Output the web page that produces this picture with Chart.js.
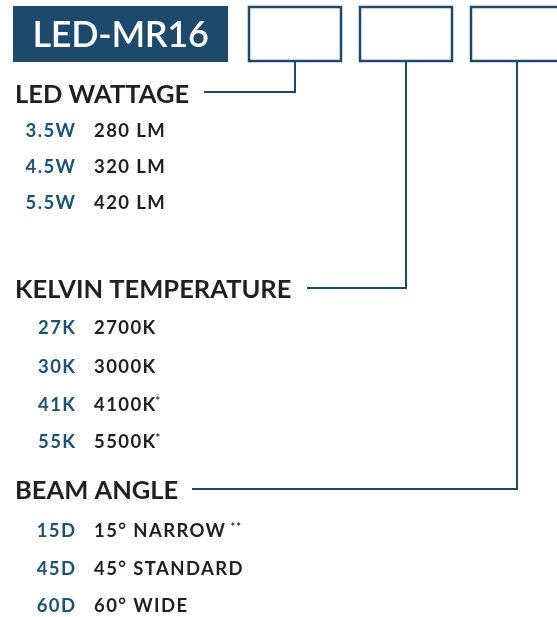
<!DOCTYPE html>
<html>
<head>
<meta charset="utf-8">
<script src="https://cdn.jsdelivr.net/npm/chart.js@4.4.1/dist/chart.umd.min.js"></script>
<style>
  html, body { margin: 0; padding: 0; background: #ffffff; }
  #wrap { width: 557px; height: 617px; position: relative; }
</style>
</head>
<body>
<div id="wrap"><canvas id="c"></canvas></div>
<script>
// ---------- data ----------
const productCode = 'LED-MR16';
const sectionTitles = ['LED WATTAGE', 'KELVIN TEMPERATURE', 'BEAM ANGLE'];
const wattageCodes = ['3.5W', '4.5W', '5.5W'];
const wattageLabels = ['280 LM', '320 LM', '420 LM'];
const kelvinCodes = ['27K', '30K', '41K', '55K'];
const kelvinLabels = ['2700K', '3000K', '4100K*', '5500K*'];
const beamCodes = ['15D', '45D', '60D'];
const beamLabels = ['15° NARROW **', '45° STANDARD', '60° WIDE'];

// ---------- layout (pixel coordinates of the drawing space) ----------
const W = 557, H = 617;
const BLUE = '#1d4a6c';
const CODE_BLUE = '#1b5275';
const INK = '#231f20';
const titleBox = { x0: 13, x1: 228, y0: 6, y1: 62 };
const slotBoxes = [
  { x0: 249, x1: 341, y0: 7, y1: 61 },
  { x0: 360, x1: 452, y0: 7, y1: 61 },
  { x0: 471, x1: 563, y0: 7, y1: 61 }
];
const sectionLayout = [
  { headY: 103, lineY: 92, lineX0: 204, rows: [137, 173, 209] },
  { headY: 298, lineY: 288, lineX0: 307, rows: [334, 373, 411, 448] },
  { headY: 499, lineY: 489, lineX0: 192, rows: [537, 575, 612] }
];
const codeRightX = 75;
const labelLeftX = 94;
const headX = 15;

const groups = [
  { codes: wattageCodes, labels: wattageLabels },
  { codes: kelvinCodes, labels: kelvinLabels },
  { codes: beamCodes, labels: beamLabels }
];

// ---------- datasets (all drawn through chart scales) ----------
const datasets = [];
datasets.push({
  data: [{ x: titleBox.x0, y: titleBox.y0 }, { x: titleBox.x1, y: titleBox.y0 }],
  showLine: true, borderColor: BLUE, borderWidth: 0, pointRadius: 0,
  backgroundColor: BLUE, fill: { value: titleBox.y1 }
});
slotBoxes.forEach((b, i) => {
  datasets.push({
    data: [{ x: b.x0, y: b.y0 }, { x: b.x1, y: b.y0 }, { x: b.x1, y: b.y1 }, { x: b.x0, y: b.y1 }, { x: b.x0, y: b.y0 }],
    showLine: true, borderColor: BLUE, borderWidth: 2.5, pointRadius: 0, fill: false,
    borderJoinStyle: 'miter', borderCapStyle: 'square'
  });
  const cx = (b.x0 + b.x1) / 2;
  const s = sectionLayout[i];
  datasets.push({
    data: [{ x: cx, y: b.y1 }, { x: cx, y: s.lineY }, { x: s.lineX0, y: s.lineY }],
    showLine: true, borderColor: BLUE, borderWidth: 2, pointRadius: 0, fill: false,
    borderJoinStyle: 'miter'
  });
});

// ---------- text plugin ----------
const textPlugin = {
  id: 'texts',
  afterDatasetsDraw(chart) {
    const ctx = chart.ctx;
    const xs = chart.scales.x, ys = chart.scales.y;
    const X = v => xs.getPixelForValue(v), Y = v => ys.getPixelForValue(v);
    ctx.save();
    ctx.textBaseline = 'alphabetic';
    ctx.fillStyle = '#ffffff';
    ctx.font = '600 36px Lato';
    ctx.letterSpacing = '-0.3px';
    ctx.textAlign = 'center';
    ctx.fillText(productCode, X((titleBox.x0 + titleBox.x1) / 2), Y(47));
    groups.forEach((g, gi) => {
      const s = sectionLayout[gi];
      ctx.fillStyle = INK;
      ctx.font = '700 25.5px Lato';
      ctx.letterSpacing = '0px';
      ctx.textAlign = 'left';
      ctx.fillText(sectionTitles[gi], X(headX), Y(s.headY));
      g.codes.forEach((code, ri) => {
        const y = Y(s.rows[ri]);
        ctx.font = '700 18.5px Lato';
        ctx.letterSpacing = '1.4px';
        ctx.fillStyle = CODE_BLUE;
        ctx.textAlign = 'right';
        ctx.fillText(code, X(codeRightX) + 1.4, y);
        ctx.fillStyle = INK;
        ctx.textAlign = 'left';
        const lab = g.labels[ri];
        const m = lab.match(/^(.*?)(\s?\*+)$/);
        const main = m ? m[1] : lab;
        ctx.fillText(main, X(labelLeftX), y);
        if (m) {
          const w = ctx.measureText(main).width;
          ctx.font = '700 11px Lato';
          ctx.letterSpacing = '1px';
          const star = m[2].replace(/\s/, '');
          const gap = m[2].startsWith(' ') ? 4 : -1;
          ctx.fillText(star, X(labelLeftX) + w + gap, y - 6);
        }
      });
    });
    ctx.restore();
  }
};

new Chart(document.getElementById('c'), {
  type: 'scatter',
  data: { datasets },
  options: {
    responsive: true,
    maintainAspectRatio: false,
    animation: false,
    layout: { padding: 0 },
    plugins: { legend: { display: false }, tooltip: { enabled: false }, title: { display: false } },
    scales: {
      x: { type: 'linear', min: 0, max: W, display: false },
      y: { type: 'linear', min: 0, max: H, reverse: true, display: false }
    },
    elements: { line: { tension: 0 } }
  },
  plugins: [textPlugin]
});
</script>
</body>
</html>
